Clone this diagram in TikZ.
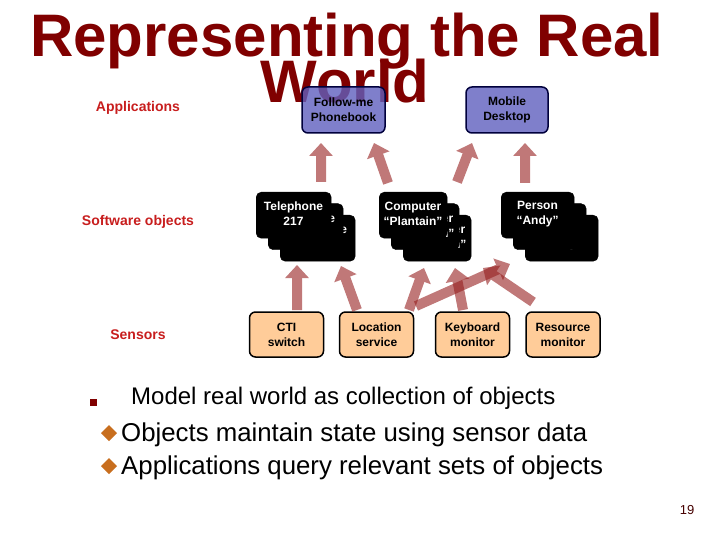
\documentclass[tikz,border=0pt]{standalone}
\usepackage{fontspec}
\setmainfont{Liberation Sans}
\usetikzlibrary{arrows.meta,calc}
\definecolor{titlered}{RGB}{128,0,0}
\definecolor{labelred}{RGB}{200,30,30}
\definecolor{apppurple}{RGB}{96,96,191}
\definecolor{appborder}{RGB}{0,0,60}
\definecolor{sensorfill}{RGB}{255,204,153}
\definecolor{arrowred}{RGB}{150,30,30}
\definecolor{bulletorange}{RGB}{200,110,30}
\definecolor{pagenum}{RGB}{70,0,0}
\tikzset{
  boxfont/.style={font=\fontsize{12}{15}\selectfont\bfseries},
  appbox/.style={draw=appborder, line width=1.5, rounded corners=6, fill=apppurple,
    fill opacity=0.8, text opacity=1, minimum height=46, inner sep=0, boxfont,
    align=center, text=black},
  sensorbox/.style={draw=black, line width=1.5, rounded corners=6, fill=sensorfill,
    minimum width=74, minimum height=45, inner sep=0, boxfont, align=center, text=black},
  objbox/.style={draw=black, fill=black, rounded corners=5, minimum height=46,
    inner sep=0, anchor=north west},
  objtext/.style={boxfont, text=white, align=center, inner sep=0},
  layerlabel/.style={font=\fontsize{14}{16}\selectfont\bfseries, text=labelred},
  bigarrow/.style={draw=arrowred, line width=10, -{Triangle[width=23pt,length=13pt]}},
  bullettext/.style={anchor=base west, inner sep=0, text=black},
  titletext/.style={anchor=base, inner sep=0, text=titlered, font=\fontsize{60}{60}\selectfont\bfseries}
}
\newcommand{\objstack}[5]{%
  \foreach \i/\d in {3/2,2/1,1/0}{%
    \node[objbox, minimum width=#4] (#1-\i) at ({#2+\d*12},{#3+\d*11.5}) {};
    \node[objtext] (#1-t\i) at ({#2+\d*12+#4/2},{#3+\d*11.5+22}) {#5};
  }%
}
\newcommand{\fatarrow}[2]{%
  \begin{scope}[transparency group, opacity=0.6]
    \draw[bigarrow] (#1) -- (#2);
  \end{scope}%
}
\begin{document}
\begin{tikzpicture}[x=1pt,y=-1pt]
\useasboundingbox (0,0) rectangle (720,540);
\fill[white] (0,0) rectangle (720,540);

% title
\node[titletext] (title1) at (347,57) {Representing the Real};
\node[titletext] (title2) at (345,103) {World};

% layer labels
\node[layerlabel] (lapp) at (138,108) {Applications};
\node[layerlabel] (lsw) at (138,222) {Software objects};
\node[layerlabel] (lsen) at (138,335) {Sensors};

% applications
\node[appbox, minimum width=83] (follow) at (343.5,110) {Follow-me\\Phonebook};
\node[appbox, minimum width=82] (mobile) at (507,110) {Mobile\\Desktop};

% software objects
\objstack{tel}{256}{192}{75}{Telephone\\217}
\objstack{comp}{379}{192}{68}{Computer\\“Plantain”}
\objstack{pers}{501}{192}{73}{Person\\“Andy”}

% sensors
\node[sensorbox] (cti) at (286.5,334.5) {CTI\\switch};
\node[sensorbox] (loc) at (376.5,334.5) {Location\\service};
\node[sensorbox] (kbd) at (472.5,334.5) {Keyboard\\monitor};
\node[sensorbox] (res) at (563,334.5) {Resource\\monitor};

% arrow end points
\coordinate (a1s) at (321,182); \coordinate (a1e) at (321,143);
\coordinate (a2s) at (388,183); \coordinate (a2e) at (374,143);
\coordinate (a3s) at (457,182); \coordinate (a3e) at (472,143);
\coordinate (a4s) at (525,183); \coordinate (a4e) at (525,143);
\coordinate (b1s) at (297,310); \coordinate (b1e) at (297,265);
\coordinate (b2s) at (357,310); \coordinate (b2e) at (341,266);
\coordinate (b3s) at (409,310); \coordinate (b3e) at (424,268);
\coordinate (b4s) at (416,306); \coordinate (b4e) at (510,264);
\coordinate (b5s) at (463,310); \coordinate (b5e) at (455,268);
\coordinate (b6s) at (533,302); \coordinate (b6e) at (483,268);

\fatarrow{a1s}{a1e}
\fatarrow{a2s}{a2e}
\fatarrow{a3s}{a3e}
\fatarrow{a4s}{a4e}
\fatarrow{b1s}{b1e}
\fatarrow{b2s}{b2e}
\fatarrow{b3s}{b3e}
\fatarrow{b4s}{b4e}
\fatarrow{b5s}{b5e}
\fatarrow{b6s}{b6e}

% bullets
\fill[titlered] (89.5,398.5) rectangle (96.5,405.5);
\node[bullettext, font=\fontsize{24}{28}\selectfont] (t1) at (131,404) {Model real world as collection of objects};
\fill[bulletorange] (101,433) -- (109,425) -- (117,433) -- (109,441) -- cycle;
\node[bullettext, font=\fontsize{25.8}{30}\selectfont] (t2) at (121,441) {Objects maintain state using sensor data};
\fill[bulletorange] (101,466) -- (109,458) -- (117,466) -- (109,474) -- cycle;
\node[bullettext, font=\fontsize{25.8}{30}\selectfont] (t3) at (121,474) {Applications query relevant sets of objects};

\node[text=pagenum, font=\fontsize{13}{15}\selectfont, inner sep=0] (pg) at (687,510) {19};
\end{tikzpicture}
\end{document}
